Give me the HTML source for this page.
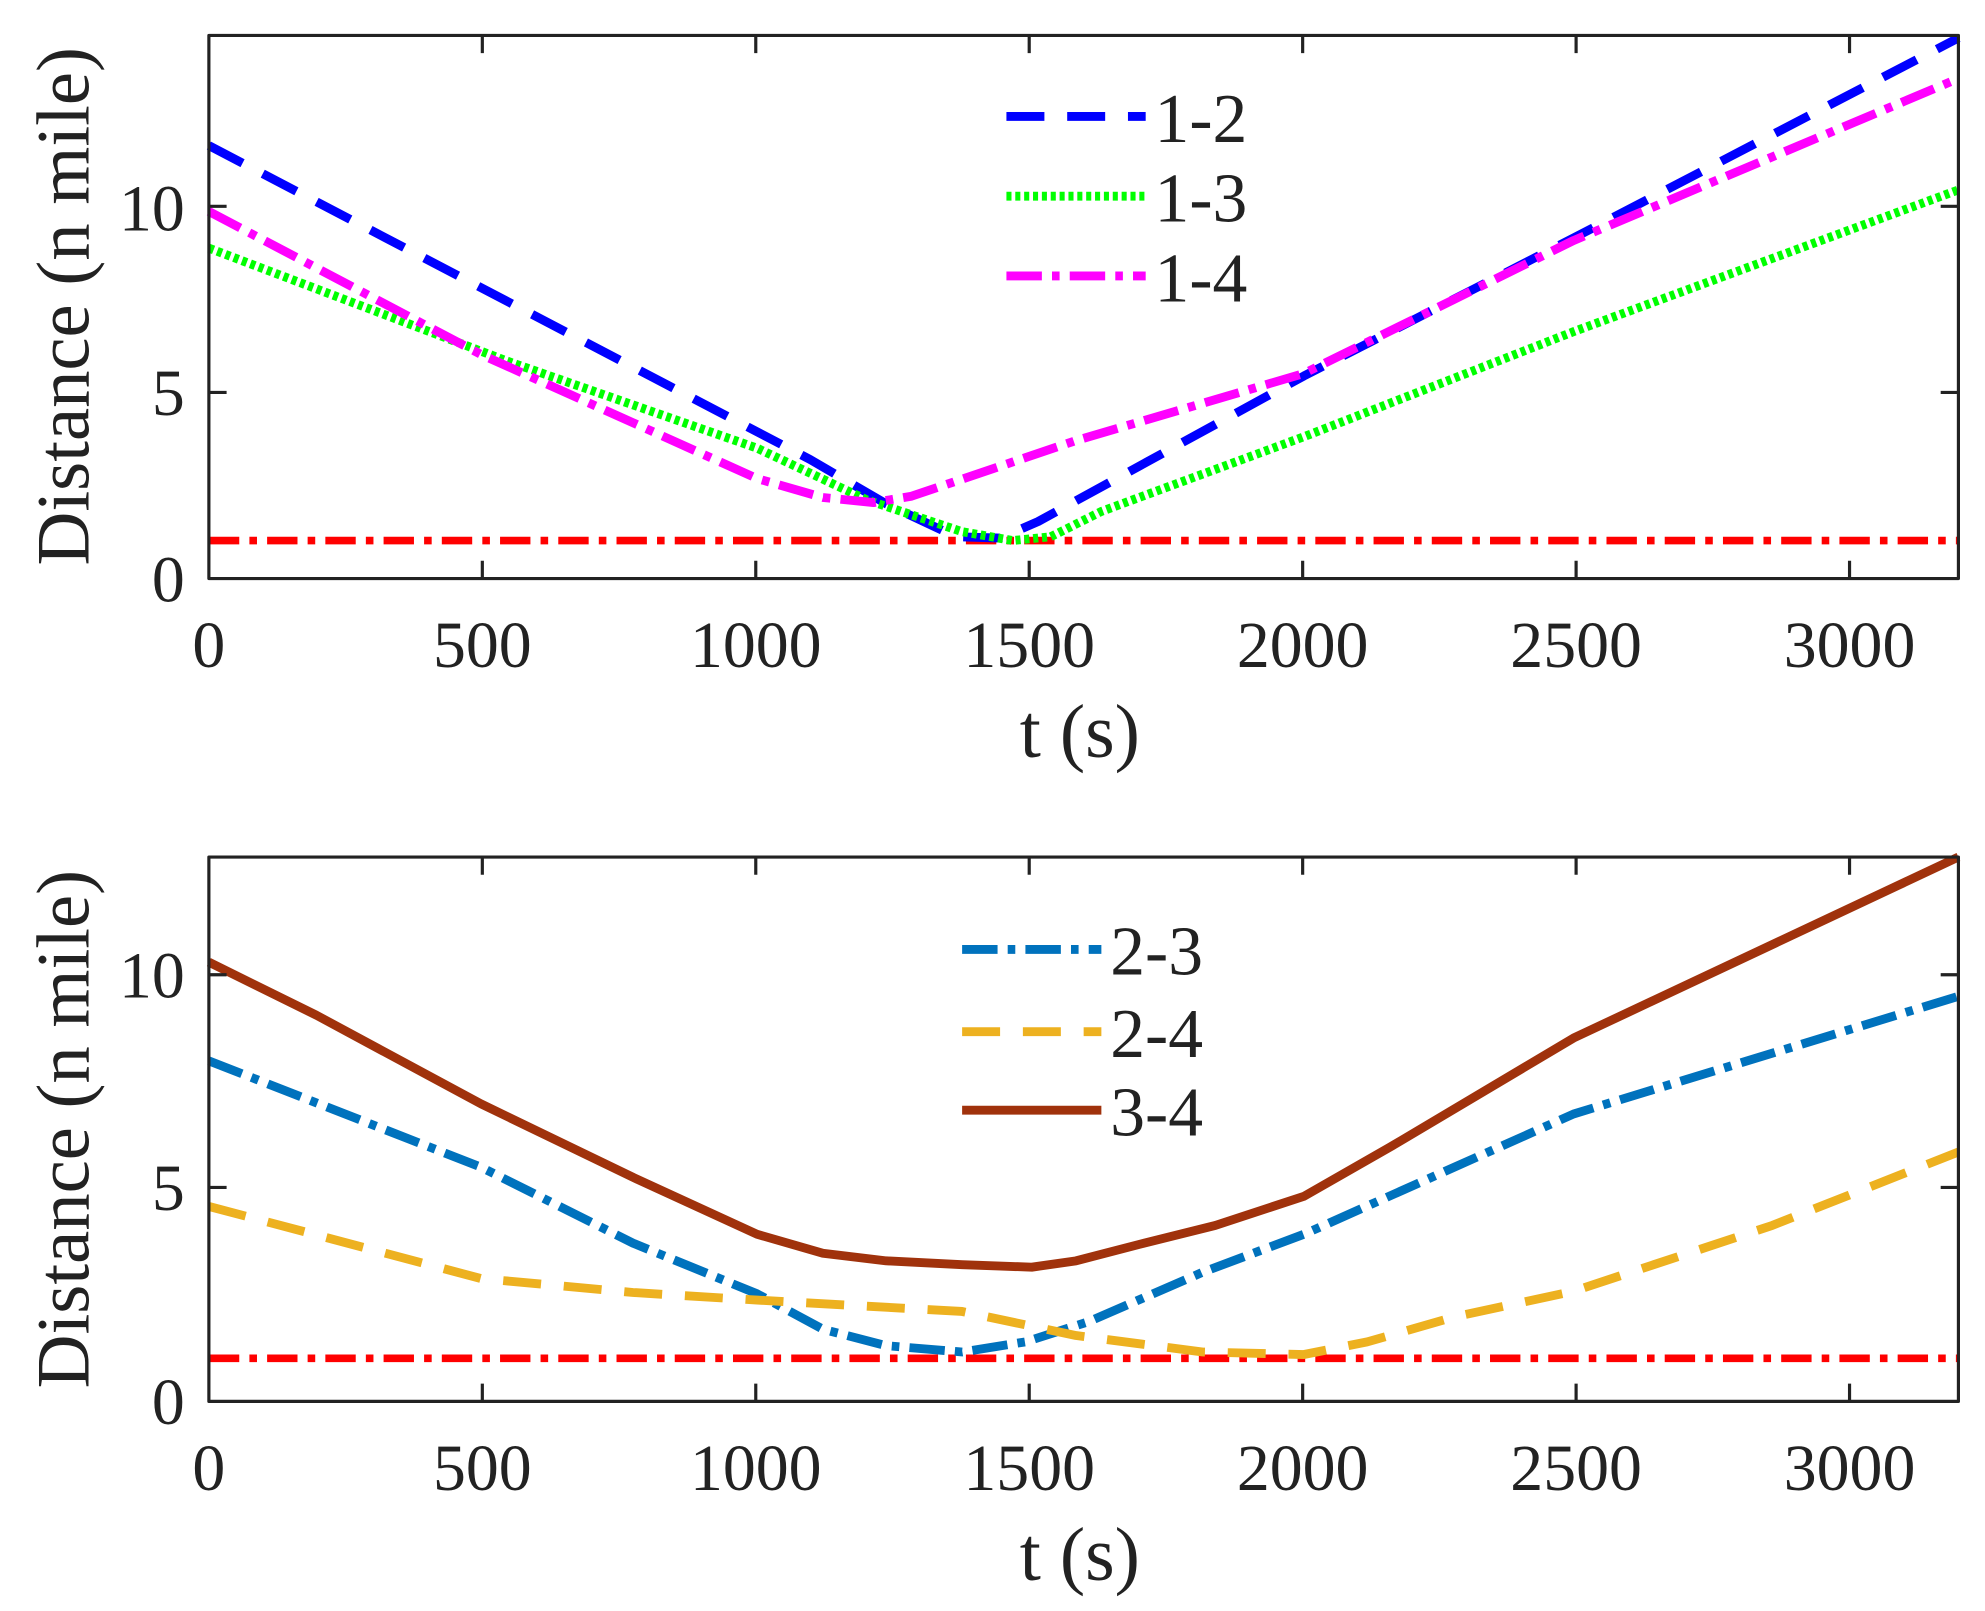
<!DOCTYPE html>
<html><head><style>html,body{margin:0;padding:0;background:#fff}svg{display:block}</style></head>
<body>
<svg width="1985" height="1611" viewBox="0 0 1568 1272.6" preserveAspectRatio="none" xmlns="http://www.w3.org/2000/svg" font-family="'Liberation Serif', serif" fill="#222">
<!-- TOP PLOT -->
<g fill="none" stroke-linejoin="round">
<line x1="165" y1="427" x2="1547" y2="427" stroke="#ff0000" stroke-width="6" stroke-dasharray="24,8,6,8"/>
<polyline stroke="#0000ff" stroke-width="7" stroke-dasharray="30,18" points="165,115 640,363 700,398 755,424 790,425 820,412 1030,297 1243,188 1547,30"/>
<polyline stroke="#00ff00" stroke-width="7" stroke-dasharray="4,3" points="165,196 400,285 598,354 685,395 760,420 800,427 830,424 870,404 1030,345 1243,262 1547,150"/>
<polyline stroke="#ff00ff" stroke-width="7" stroke-dasharray="28,8,6,8" points="165,167 380,280 598,378 650,393 690,397 720,392 850,348 1030,295 1243,190 1547,62"/>
<rect x="165" y="28" width="1382" height="429" stroke="#222" stroke-width="2.5"/>
<g stroke="#222" stroke-width="2.5">
<path d="M381,457v-14M597,457v-14M813,457v-14M1029,457v-14M1245,457v-14M1461,457v-14M381,28v14M597,28v14M813,28v14M1029,28v14M1245,28v14M1461,28v14M165,310h14M165,163h14M1547,310h-14M1547,163h-14"/>
</g>
<line x1="795" y1="92" x2="905" y2="92" stroke="#0000ff" stroke-width="7" stroke-dasharray="30,18"/>
<line x1="795" y1="155" x2="905" y2="155" stroke="#00ff00" stroke-width="7" stroke-dasharray="4,3"/>
<line x1="795" y1="218" x2="905" y2="218" stroke="#ff00ff" stroke-width="7" stroke-dasharray="28,8,6,8"/>
</g>
<g font-size="55">
<text x="912" y="112">1-2</text><text x="912" y="175">1-3</text><text x="912" y="238">1-4</text>
</g>
<g font-size="52" text-anchor="middle">
<text x="165" y="527">0</text><text x="381" y="527">500</text><text x="597" y="527">1000</text><text x="813" y="527">1500</text><text x="1029" y="527">2000</text><text x="1245" y="527">2500</text><text x="1461" y="527">3000</text>
</g>
<g font-size="52" text-anchor="end">
<text x="146" y="475">0</text><text x="146" y="328">5</text><text x="146" y="182">10</text>
</g>
<text x="853" y="598" font-size="60" text-anchor="middle">t (s)</text>
<text transform="translate(70,242) rotate(-90)" font-size="59" text-anchor="middle">Distance (n mile)</text>

<!-- BOTTOM PLOT -->
<g fill="none" stroke-linejoin="round">
<line x1="165" y1="1073" x2="1547" y2="1073" stroke="#ff0000" stroke-width="6" stroke-dasharray="24,8,6,8"/>
<polyline stroke="#a0320c" stroke-width="7" points="165,760 250,802 380,872 500,930 598,975 650,990 700,996 760,999 815,1001 850,996 900,983 960,968 1030,945 1100,905 1243,820 1547,677"/>
<polyline stroke="#0072bd" stroke-width="7" stroke-dasharray="28,8,6,8" points="165,838 380,922 500,982 598,1022 650,1050 700,1063 760,1068 810,1060 860,1044 950,1005 1030,975 1243,880 1547,787"/>
<polyline stroke="#edb120" stroke-width="7" stroke-dasharray="30,18" points="165,953 380,1010 500,1021 598,1027 760,1036 850,1055 950,1068 1030,1070 1080,1060 1150,1040 1243,1020 1400,968 1547,910"/>
<rect x="165" y="677" width="1382" height="430" stroke="#222" stroke-width="2.5"/>
<g stroke="#222" stroke-width="2.5">
<path d="M381,1107v-14M597,1107v-14M813,1107v-14M1029,1107v-14M1245,1107v-14M1461,1107v-14M381,677v14M597,677v14M813,677v14M1029,677v14M1245,677v14M1461,677v14M165,938h14M165,770h14M1547,938h-14M1547,770h-14"/>
</g>
<line x1="760" y1="750" x2="870" y2="750" stroke="#0072bd" stroke-width="7" stroke-dasharray="28,8,6,8"/>
<line x1="760" y1="815" x2="870" y2="815" stroke="#edb120" stroke-width="7" stroke-dasharray="30,18"/>
<line x1="760" y1="877" x2="870" y2="877" stroke="#a0320c" stroke-width="7"/>
</g>
<g font-size="55">
<text x="877" y="770">2-3</text><text x="877" y="835">2-4</text><text x="877" y="897">3-4</text>
</g>
<g font-size="52" text-anchor="middle">
<text x="165" y="1177">0</text><text x="381" y="1177">500</text><text x="597" y="1177">1000</text><text x="813" y="1177">1500</text><text x="1029" y="1177">2000</text><text x="1245" y="1177">2500</text><text x="1461" y="1177">3000</text>
</g>
<g font-size="52" text-anchor="end">
<text x="146" y="1125">0</text><text x="146" y="956">5</text><text x="146" y="788">10</text>
</g>
<text x="853" y="1248" font-size="60" text-anchor="middle">t (s)</text>
<text transform="translate(70,892) rotate(-90)" font-size="59" text-anchor="middle">Distance (n mile)</text>
</svg>
</body></html>
